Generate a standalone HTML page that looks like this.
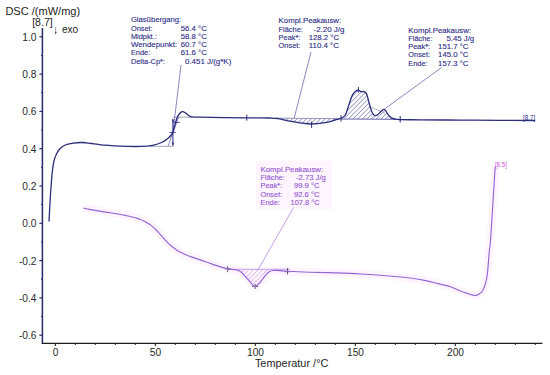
<!DOCTYPE html>
<html><head><meta charset="utf-8"><style>
html,body{margin:0;padding:0;background:#fff;}
svg{display:block;}
text{font-family:"Liberation Sans",sans-serif;}
.ax{font-size:10.2px;fill:#2a2a2a;}
.ttl{font-size:10.2px;fill:#1e1e1e;}
.ttl2{font-size:10.2px;fill:#1e1e1e;}
.lb{font-size:7.4px;stroke-width:0.12px;}
.sm{font-size:6.4px;}
</style></head><body>
<svg width="550" height="375" viewBox="0 0 550 375">
<rect width="550" height="375" fill="#fff"/>
<defs>
<pattern id="hb" patternUnits="userSpaceOnUse" width="3.3" height="3.3" patternTransform="rotate(45)">
<line x1="0" y1="0" x2="0" y2="3.3" stroke="#4a4a96" stroke-width="0.95"/></pattern>
<pattern id="hm" patternUnits="userSpaceOnUse" width="3.3" height="3.3" patternTransform="rotate(45)">
<line x1="0" y1="0" x2="0" y2="3.3" stroke="#cc6ad8" stroke-width="0.9"/></pattern>
<clipPath id="cpb1"><path d="M276 118.3 L341 118.6 L341 130 L276 130 Z"/></clipPath>
<clipPath id="cpb2"><path d="M341 80 L400.2 80 L400.2 119.2 L341 119.2 Z"/></clipPath>
<clipPath id="cpm"><path d="M228 269.4 L290 269.4 L290 292 L228 292 Z"/></clipPath>
</defs>
<rect x="256" y="161" width="76" height="48" fill="#fef5fe"/>
<path d="M83.20 208.01 C83.70 208.12 85.20 208.47 86.20 208.69 C87.20 208.91 88.20 209.12 89.20 209.32 C90.20 209.52 91.20 209.71 92.20 209.90 C93.20 210.08 94.20 210.26 95.20 210.43 C96.20 210.60 97.20 210.77 98.20 210.93 C99.20 211.09 100.20 211.25 101.20 211.41 C102.20 211.56 103.20 211.71 104.20 211.86 C105.20 212.02 106.20 212.17 107.20 212.32 C108.20 212.47 109.20 212.62 110.20 212.77 C111.20 212.92 112.20 213.08 113.20 213.24 C114.20 213.39 115.20 213.55 116.20 213.72 C117.20 213.89 118.20 214.05 119.20 214.23 C120.20 214.41 121.20 214.59 122.20 214.78 C123.20 214.97 124.20 215.17 125.20 215.37 C126.20 215.58 127.20 215.80 128.20 216.02 C129.20 216.25 130.20 216.49 131.20 216.73 C132.20 216.98 133.20 217.24 134.20 217.52 C135.20 217.80 136.20 218.08 137.20 218.41 C138.20 218.73 139.20 219.07 140.20 219.45 C141.20 219.83 142.20 220.24 143.20 220.71 C144.20 221.17 145.20 221.67 146.20 222.24 C147.20 222.80 148.20 223.41 149.20 224.09 C150.20 224.78 151.20 225.52 152.20 226.34 C153.20 227.16 154.20 228.06 155.20 229.02 C156.20 229.99 157.20 231.04 158.20 232.12 C159.20 233.20 160.20 234.35 161.20 235.49 C162.20 236.63 163.20 237.82 164.20 238.93 C165.20 240.05 166.20 241.16 167.20 242.18 C168.20 243.20 169.20 244.15 170.20 245.04 C171.20 245.93 172.20 246.75 173.20 247.52 C174.20 248.29 175.20 249.00 176.20 249.66 C177.20 250.33 178.20 250.94 179.20 251.51 C180.20 252.09 181.20 252.61 182.20 253.11 C183.20 253.61 184.20 254.07 185.20 254.51 C186.20 254.95 187.20 255.35 188.20 255.74 C189.20 256.13 190.20 256.49 191.20 256.85 C192.20 257.20 193.20 257.54 194.20 257.88 C195.20 258.21 196.20 258.54 197.20 258.87 C198.20 259.20 199.20 259.53 200.20 259.87 C201.20 260.21 202.20 260.56 203.20 260.91 C204.20 261.26 205.20 261.62 206.20 261.97 C207.20 262.33 208.20 262.69 209.20 263.05 C210.20 263.41 211.20 263.76 212.20 264.11 C213.20 264.47 214.20 264.81 215.20 265.15 C216.20 265.49 217.20 265.83 218.20 266.15 C219.20 266.47 220.20 266.78 221.20 267.08 C222.20 267.38 223.20 267.66 224.20 267.93 C225.20 268.20 226.20 268.45 227.20 268.68 C228.20 268.92 228.98 269.17 230.20 269.32 C231.42 269.47 232.80 269.22 234.50 269.60 C236.20 269.98 238.45 270.28 240.40 271.60 C242.35 272.92 244.27 275.40 246.20 277.50 C248.13 279.60 250.55 282.70 252.00 284.20 C253.45 285.70 253.68 286.65 254.90 286.50 C256.12 286.35 257.62 285.05 259.30 283.30 C260.98 281.55 263.30 277.95 265.00 276.00 C266.70 274.05 268.03 272.52 269.50 271.60 C270.97 270.68 272.05 270.67 273.80 270.50 C275.55 270.33 277.72 270.47 280.00 270.60 C282.28 270.73 282.50 271.03 287.50 271.30 C292.50 271.57 302.02 271.93 310.00 272.20 C317.98 272.47 326.92 272.60 335.40 272.90 C343.88 273.20 352.42 273.52 360.90 274.00 C369.38 274.48 377.82 275.08 386.30 275.80 C394.78 276.52 405.02 277.45 411.80 278.30 C418.58 279.15 422.77 280.05 427.00 280.90 C431.23 281.75 433.37 282.47 437.20 283.40 C441.03 284.33 446.42 285.35 450.00 286.50 C453.58 287.65 455.82 289.15 458.70 290.30 C461.58 291.45 464.57 292.53 467.30 293.40 C470.03 294.27 473.07 295.43 475.10 295.50 C477.13 295.57 478.20 294.67 479.50 293.80 C480.80 292.93 481.90 292.03 482.90 290.30 C483.90 288.57 484.77 286.00 485.50 283.40 C486.23 280.80 486.80 278.43 487.30 274.70 C487.80 270.97 488.13 265.28 488.50 261.00 C488.87 256.72 489.13 252.83 489.50 249.00 C489.87 245.17 489.75 251.78 490.70 238.00 C491.65 224.22 494.45 178.25 495.20 166.30" fill="none" stroke="#fef4fe" stroke-width="8" stroke-linejoin="round"/>
<line x1="42.4" y1="28" x2="42.4" y2="343.4" stroke="#2a2a70" stroke-width="1.5"/>
<line x1="41.7" y1="343.4" x2="542.4" y2="343.4" stroke="#1e1e1e" stroke-width="1.3"/>
<line x1="39.4" y1="335.20" x2="42.4" y2="335.20" stroke="#2a2a70" stroke-width="1.2"/>
<line x1="41" y1="316.55" x2="42.4" y2="316.55" stroke="#2a2a70" stroke-width="1"/>
<line x1="39.4" y1="297.90" x2="42.4" y2="297.90" stroke="#2a2a70" stroke-width="1.2"/>
<line x1="41" y1="279.25" x2="42.4" y2="279.25" stroke="#2a2a70" stroke-width="1"/>
<line x1="39.4" y1="260.60" x2="42.4" y2="260.60" stroke="#2a2a70" stroke-width="1.2"/>
<line x1="41" y1="241.95" x2="42.4" y2="241.95" stroke="#2a2a70" stroke-width="1"/>
<line x1="39.4" y1="223.30" x2="42.4" y2="223.30" stroke="#2a2a70" stroke-width="1.2"/>
<line x1="41" y1="204.65" x2="42.4" y2="204.65" stroke="#2a2a70" stroke-width="1"/>
<line x1="39.4" y1="186.00" x2="42.4" y2="186.00" stroke="#2a2a70" stroke-width="1.2"/>
<line x1="41" y1="167.35" x2="42.4" y2="167.35" stroke="#2a2a70" stroke-width="1"/>
<line x1="39.4" y1="148.70" x2="42.4" y2="148.70" stroke="#2a2a70" stroke-width="1.2"/>
<line x1="41" y1="130.05" x2="42.4" y2="130.05" stroke="#2a2a70" stroke-width="1"/>
<line x1="39.4" y1="111.40" x2="42.4" y2="111.40" stroke="#2a2a70" stroke-width="1.2"/>
<line x1="41" y1="92.75" x2="42.4" y2="92.75" stroke="#2a2a70" stroke-width="1"/>
<line x1="39.4" y1="74.10" x2="42.4" y2="74.10" stroke="#2a2a70" stroke-width="1.2"/>
<line x1="41" y1="55.45" x2="42.4" y2="55.45" stroke="#2a2a70" stroke-width="1"/>
<line x1="39.4" y1="36.80" x2="42.4" y2="36.80" stroke="#2a2a70" stroke-width="1.2"/>
<text x="36.5" y="40.80" text-anchor="end" class="ax">1.0</text>
<text x="36.5" y="78.10" text-anchor="end" class="ax">0.8</text>
<text x="36.5" y="115.40" text-anchor="end" class="ax">0.6</text>
<text x="36.5" y="152.70" text-anchor="end" class="ax">0.4</text>
<text x="36.5" y="190.00" text-anchor="end" class="ax">0.2</text>
<text x="36.5" y="227.30" text-anchor="end" class="ax">0.0</text>
<text x="36.5" y="264.60" text-anchor="end" class="ax">-0.2</text>
<text x="36.5" y="301.90" text-anchor="end" class="ax">-0.4</text>
<text x="36.5" y="339.20" text-anchor="end" class="ax">-0.6</text>
<line x1="55.30" y1="343.4" x2="55.30" y2="346" stroke="#1e1e1e" stroke-width="1.1"/>
<line x1="75.30" y1="343.4" x2="75.30" y2="345" stroke="#1e1e1e" stroke-width="1"/>
<line x1="95.30" y1="343.4" x2="95.30" y2="345" stroke="#1e1e1e" stroke-width="1"/>
<line x1="115.30" y1="343.4" x2="115.30" y2="345" stroke="#1e1e1e" stroke-width="1"/>
<line x1="135.30" y1="343.4" x2="135.30" y2="345" stroke="#1e1e1e" stroke-width="1"/>
<line x1="155.30" y1="343.4" x2="155.30" y2="346" stroke="#1e1e1e" stroke-width="1.1"/>
<line x1="175.30" y1="343.4" x2="175.30" y2="345" stroke="#1e1e1e" stroke-width="1"/>
<line x1="195.30" y1="343.4" x2="195.30" y2="345" stroke="#1e1e1e" stroke-width="1"/>
<line x1="215.30" y1="343.4" x2="215.30" y2="345" stroke="#1e1e1e" stroke-width="1"/>
<line x1="235.30" y1="343.4" x2="235.30" y2="345" stroke="#1e1e1e" stroke-width="1"/>
<line x1="255.30" y1="343.4" x2="255.30" y2="346" stroke="#1e1e1e" stroke-width="1.1"/>
<line x1="275.30" y1="343.4" x2="275.30" y2="345" stroke="#1e1e1e" stroke-width="1"/>
<line x1="295.30" y1="343.4" x2="295.30" y2="345" stroke="#1e1e1e" stroke-width="1"/>
<line x1="315.30" y1="343.4" x2="315.30" y2="345" stroke="#1e1e1e" stroke-width="1"/>
<line x1="335.30" y1="343.4" x2="335.30" y2="345" stroke="#1e1e1e" stroke-width="1"/>
<line x1="355.30" y1="343.4" x2="355.30" y2="346" stroke="#1e1e1e" stroke-width="1.1"/>
<line x1="375.30" y1="343.4" x2="375.30" y2="345" stroke="#1e1e1e" stroke-width="1"/>
<line x1="395.30" y1="343.4" x2="395.30" y2="345" stroke="#1e1e1e" stroke-width="1"/>
<line x1="415.30" y1="343.4" x2="415.30" y2="345" stroke="#1e1e1e" stroke-width="1"/>
<line x1="435.30" y1="343.4" x2="435.30" y2="345" stroke="#1e1e1e" stroke-width="1"/>
<line x1="455.30" y1="343.4" x2="455.30" y2="346" stroke="#1e1e1e" stroke-width="1.1"/>
<line x1="475.30" y1="343.4" x2="475.30" y2="345" stroke="#1e1e1e" stroke-width="1"/>
<line x1="495.30" y1="343.4" x2="495.30" y2="345" stroke="#1e1e1e" stroke-width="1"/>
<line x1="515.30" y1="343.4" x2="515.30" y2="345" stroke="#1e1e1e" stroke-width="1"/>
<line x1="535.30" y1="343.4" x2="535.30" y2="345" stroke="#1e1e1e" stroke-width="1"/>
<text x="55.50" y="355.6" text-anchor="middle" class="ax">0</text>
<text x="155.50" y="355.6" text-anchor="middle" class="ax">50</text>
<text x="255.50" y="355.6" text-anchor="middle" class="ax">100</text>
<text x="355.50" y="355.6" text-anchor="middle" class="ax">150</text>
<text x="455.50" y="355.6" text-anchor="middle" class="ax">200</text>
<text x="5.4" y="14.8" class="ttl" textLength="74.8" lengthAdjust="spacingAndGlyphs">DSC /(mW/mg)</text>
<text x="32.2" y="26.1" class="ttl2" textLength="20.5" lengthAdjust="spacingAndGlyphs">[8.7]</text>
<text x="61.9" y="32.7" class="ttl2" textLength="16.3" lengthAdjust="spacingAndGlyphs">exo</text>
<line x1="55.7" y1="26.8" x2="55.7" y2="33" stroke="#8a8a8a" stroke-width="0.9"/>
<path d="M54.8 32.2 L56.6 32.2 L55.7 34.4 Z" fill="#333"/>
<text x="254.9" y="366.6" class="ttl" textLength="73.5" lengthAdjust="spacingAndGlyphs">Temperatur /°C</text>
<line x1="150" y1="146.3" x2="173.5" y2="146.3" stroke="#9a9ab8" stroke-width="0.9"/>
<line x1="173" y1="117.2" x2="192" y2="117.2" stroke="#9a9ab8" stroke-width="0.9"/>
<line x1="168.0" y1="146.3" x2="178.6" y2="117.2" stroke="#6a6aa8" stroke-width="0.8"/>
<line x1="172.9" y1="132.4" x2="181.0" y2="65.0" stroke="#6a6ab0" stroke-width="0.8"/>
<line x1="172.9" y1="119" x2="172.9" y2="145.5" stroke="#3a3a90" stroke-width="1.1"/>
<path d="M171.6 142.6 L172.9 146 L174.2 142.6 Z" fill="#3a3a90"/>
<path d="M171.6 121.8 L172.9 118.4 L174.2 121.8 Z" fill="#3a3a90"/>
<line x1="169.4" y1="132.4" x2="175.8" y2="132.4" stroke="#3a3a90" stroke-width="0.9"/>
<line x1="173.2" y1="122.4" x2="179.8" y2="122.4" stroke="#3a3a90" stroke-width="0.9"/>
<path d="M270.00 118.00 C271.33 118.10 274.67 118.07 278.00 118.60 C281.33 119.13 286.33 120.48 290.00 121.20 C293.67 121.92 296.38 122.43 300.00 122.90 C303.62 123.37 307.53 124.05 311.70 124.00 C315.87 123.95 321.12 123.27 325.00 122.60 C328.88 121.93 332.33 120.70 335.00 120.00 C337.67 119.30 339.48 119.00 341.00 118.40 C342.52 117.80 343.58 116.73 344.10 116.40 Z" fill="url(#hb)" stroke="none" clip-path="url(#cpb1)"/>
<path d="M341.00 118.40 C341.52 118.07 343.25 117.23 344.10 116.40 C344.95 115.57 345.43 114.92 346.10 113.40 C346.77 111.88 347.42 109.42 348.10 107.30 C348.78 105.18 349.52 102.65 350.20 100.70 C350.88 98.75 351.53 96.95 352.20 95.60 C352.87 94.25 353.53 93.42 354.20 92.60 C354.87 91.78 355.52 91.08 356.20 90.70 C356.88 90.32 357.45 90.15 358.30 90.30 C359.15 90.45 360.30 91.38 361.30 91.60 C362.30 91.82 363.45 91.27 364.30 91.60 C365.15 91.93 365.80 92.50 366.40 93.60 C367.00 94.70 367.40 96.47 367.90 98.20 C368.40 99.93 368.88 102.13 369.40 104.00 C369.92 105.87 370.42 107.75 371.00 109.40 C371.58 111.05 372.22 112.87 372.90 113.90 C373.58 114.93 374.30 115.47 375.10 115.60 C375.90 115.73 376.77 115.35 377.70 114.70 C378.63 114.05 379.70 112.58 380.70 111.70 C381.70 110.82 382.83 109.53 383.70 109.40 C384.57 109.27 385.17 110.02 385.90 110.90 C386.63 111.78 387.23 113.58 388.10 114.70 C388.97 115.82 389.97 116.88 391.10 117.60 C392.23 118.32 393.53 118.67 394.90 119.00 C396.27 119.33 398.57 119.50 399.30 119.60 Z" fill="url(#hb)" stroke="none" clip-path="url(#cpb2)"/>
<path d="M227.20 268.68 C227.70 268.79 228.98 269.17 230.20 269.32 C231.42 269.47 232.80 269.22 234.50 269.60 C236.20 269.98 238.45 270.28 240.40 271.60 C242.35 272.92 244.27 275.40 246.20 277.50 C248.13 279.60 250.55 282.70 252.00 284.20 C253.45 285.70 253.68 286.65 254.90 286.50 C256.12 286.35 257.62 285.05 259.30 283.30 C260.98 281.55 263.30 277.95 265.00 276.00 C266.70 274.05 268.03 272.52 269.50 271.60 C270.97 270.68 272.05 270.67 273.80 270.50 C275.55 270.33 278.97 270.58 280.00 270.60 Z" fill="url(#hm)" stroke="none" clip-path="url(#cpm)"/>
<line x1="276" y1="118.2" x2="341" y2="118.6" stroke="#8a8ab8" stroke-width="0.9"/>
<line x1="341" y1="119.0" x2="400.2" y2="119.3" stroke="#5050a0" stroke-width="0.9"/>
<line x1="371" y1="107.2" x2="385" y2="113.3" stroke="#a0a0c0" stroke-width="0.8"/>
<line x1="294.2" y1="118.2" x2="311.0" y2="52.0" stroke="#6a6ab0" stroke-width="0.8"/>
<line x1="384" y1="109.4" x2="441.5" y2="67.6" stroke="#6a6ab0" stroke-width="0.8"/>
<line x1="246.8" y1="114.7" x2="246.8" y2="120.7" stroke="#2c2c7c" stroke-width="1"/>
<line x1="311.6" y1="121.4" x2="311.6" y2="127.9" stroke="#2c2c7c" stroke-width="1"/>
<line x1="341.0" y1="115.2" x2="341.0" y2="121.6" stroke="#2c2c7c" stroke-width="1"/>
<line x1="358.4" y1="87.0" x2="358.4" y2="92.5" stroke="#2c2c7c" stroke-width="1"/>
<line x1="400.2" y1="116.1" x2="400.2" y2="122.5" stroke="#2c2c7c" stroke-width="1"/>
<path d="M49.00 221.50 C49.10 219.58 49.37 214.25 49.60 210.00 C49.83 205.75 50.10 200.67 50.40 196.00 C50.70 191.33 51.07 186.17 51.40 182.00 C51.73 177.83 51.95 174.58 52.40 171.00 C52.85 167.42 53.42 163.33 54.10 160.50 C54.78 157.67 55.60 155.88 56.50 154.00 C57.40 152.12 58.35 150.53 59.50 149.20 C60.65 147.87 61.98 146.83 63.40 146.00 C64.82 145.17 66.35 144.68 68.00 144.20 C69.65 143.72 71.15 143.38 73.30 143.10 C75.45 142.82 78.72 142.55 80.90 142.50 C83.08 142.45 84.58 142.63 86.40 142.80 C88.22 142.97 89.80 143.23 91.80 143.50 C93.80 143.77 96.03 144.12 98.40 144.40 C100.77 144.68 102.40 144.90 106.00 145.20 C109.60 145.50 114.03 146.00 120.00 146.20 C125.97 146.40 136.35 146.55 141.80 146.40 C147.25 146.25 149.42 145.95 152.70 145.30 C155.98 144.65 159.13 143.50 161.50 142.50 C163.87 141.50 165.35 140.47 166.90 139.30 C168.45 138.13 169.80 136.72 170.80 135.50 C171.80 134.28 172.20 133.75 172.90 132.00 C173.60 130.25 174.35 127.25 175.00 125.00 C175.65 122.75 176.10 120.33 176.80 118.50 C177.50 116.67 178.30 115.13 179.20 114.00 C180.10 112.87 181.23 111.95 182.20 111.70 C183.17 111.45 184.03 111.95 185.00 112.50 C185.97 113.05 186.90 114.28 188.00 115.00 C189.10 115.72 189.68 116.43 191.60 116.80 C193.52 117.17 190.43 117.03 199.50 117.20 C208.57 117.37 234.25 117.67 246.00 117.80 C257.75 117.93 264.67 117.87 270.00 118.00 C275.33 118.13 274.67 118.07 278.00 118.60 C281.33 119.13 286.33 120.48 290.00 121.20 C293.67 121.92 296.38 122.43 300.00 122.90 C303.62 123.37 307.53 124.05 311.70 124.00 C315.87 123.95 321.12 123.27 325.00 122.60 C328.88 121.93 332.33 120.70 335.00 120.00 C337.67 119.30 339.48 119.00 341.00 118.40 C342.52 117.80 343.25 117.23 344.10 116.40 C344.95 115.57 345.43 114.92 346.10 113.40 C346.77 111.88 347.42 109.42 348.10 107.30 C348.78 105.18 349.52 102.65 350.20 100.70 C350.88 98.75 351.53 96.95 352.20 95.60 C352.87 94.25 353.53 93.42 354.20 92.60 C354.87 91.78 355.52 91.08 356.20 90.70 C356.88 90.32 357.45 90.15 358.30 90.30 C359.15 90.45 360.30 91.38 361.30 91.60 C362.30 91.82 363.45 91.27 364.30 91.60 C365.15 91.93 365.80 92.50 366.40 93.60 C367.00 94.70 367.40 96.47 367.90 98.20 C368.40 99.93 368.88 102.13 369.40 104.00 C369.92 105.87 370.42 107.75 371.00 109.40 C371.58 111.05 372.22 112.87 372.90 113.90 C373.58 114.93 374.30 115.47 375.10 115.60 C375.90 115.73 376.77 115.35 377.70 114.70 C378.63 114.05 379.70 112.58 380.70 111.70 C381.70 110.82 382.83 109.53 383.70 109.40 C384.57 109.27 385.17 110.02 385.90 110.90 C386.63 111.78 387.23 113.58 388.10 114.70 C388.97 115.82 389.97 116.88 391.10 117.60 C392.23 118.32 393.53 118.67 394.90 119.00 C396.27 119.33 395.12 119.47 399.30 119.60 C403.48 119.73 409.88 119.72 420.00 119.80 C430.12 119.88 446.67 120.00 460.00 120.10 C473.33 120.20 487.47 120.33 500.00 120.40 C512.53 120.47 529.33 120.48 535.20 120.50" fill="none" stroke="#2c2c7c" stroke-width="1.3" stroke-linejoin="round"/>
<line x1="228" y1="269.3" x2="290" y2="269.3" stroke="#c090e8" stroke-width="0.9"/>
<line x1="257.8" y1="270.3" x2="293.5" y2="207.5" stroke="#b888e8" stroke-width="0.8"/>
<line x1="227.7" y1="266.0" x2="227.7" y2="272.0" stroke="#505050" stroke-width="0.9"/>
<line x1="255.1" y1="284.0" x2="255.1" y2="289.0" stroke="#505050" stroke-width="0.9"/>
<line x1="287.5" y1="268.0" x2="287.5" y2="274.4" stroke="#505050" stroke-width="0.9"/>
<line x1="224.7" y1="268.8" x2="230.7" y2="268.8" stroke="#505050" stroke-width="0.9"/>
<line x1="252.1" y1="286.4" x2="258.1" y2="286.4" stroke="#505050" stroke-width="0.9"/>
<line x1="284.5" y1="271.7" x2="290.5" y2="271.7" stroke="#505050" stroke-width="0.9"/>
<path d="M83.20 208.01 C83.70 208.12 85.20 208.47 86.20 208.69 C87.20 208.91 88.20 209.12 89.20 209.32 C90.20 209.52 91.20 209.71 92.20 209.90 C93.20 210.08 94.20 210.26 95.20 210.43 C96.20 210.60 97.20 210.77 98.20 210.93 C99.20 211.09 100.20 211.25 101.20 211.41 C102.20 211.56 103.20 211.71 104.20 211.86 C105.20 212.02 106.20 212.17 107.20 212.32 C108.20 212.47 109.20 212.62 110.20 212.77 C111.20 212.92 112.20 213.08 113.20 213.24 C114.20 213.39 115.20 213.55 116.20 213.72 C117.20 213.89 118.20 214.05 119.20 214.23 C120.20 214.41 121.20 214.59 122.20 214.78 C123.20 214.97 124.20 215.17 125.20 215.37 C126.20 215.58 127.20 215.80 128.20 216.02 C129.20 216.25 130.20 216.49 131.20 216.73 C132.20 216.98 133.20 217.24 134.20 217.52 C135.20 217.80 136.20 218.08 137.20 218.41 C138.20 218.73 139.20 219.07 140.20 219.45 C141.20 219.83 142.20 220.24 143.20 220.71 C144.20 221.17 145.20 221.67 146.20 222.24 C147.20 222.80 148.20 223.41 149.20 224.09 C150.20 224.78 151.20 225.52 152.20 226.34 C153.20 227.16 154.20 228.06 155.20 229.02 C156.20 229.99 157.20 231.04 158.20 232.12 C159.20 233.20 160.20 234.35 161.20 235.49 C162.20 236.63 163.20 237.82 164.20 238.93 C165.20 240.05 166.20 241.16 167.20 242.18 C168.20 243.20 169.20 244.15 170.20 245.04 C171.20 245.93 172.20 246.75 173.20 247.52 C174.20 248.29 175.20 249.00 176.20 249.66 C177.20 250.33 178.20 250.94 179.20 251.51 C180.20 252.09 181.20 252.61 182.20 253.11 C183.20 253.61 184.20 254.07 185.20 254.51 C186.20 254.95 187.20 255.35 188.20 255.74 C189.20 256.13 190.20 256.49 191.20 256.85 C192.20 257.20 193.20 257.54 194.20 257.88 C195.20 258.21 196.20 258.54 197.20 258.87 C198.20 259.20 199.20 259.53 200.20 259.87 C201.20 260.21 202.20 260.56 203.20 260.91 C204.20 261.26 205.20 261.62 206.20 261.97 C207.20 262.33 208.20 262.69 209.20 263.05 C210.20 263.41 211.20 263.76 212.20 264.11 C213.20 264.47 214.20 264.81 215.20 265.15 C216.20 265.49 217.20 265.83 218.20 266.15 C219.20 266.47 220.20 266.78 221.20 267.08 C222.20 267.38 223.20 267.66 224.20 267.93 C225.20 268.20 226.20 268.45 227.20 268.68 C228.20 268.92 228.98 269.17 230.20 269.32 C231.42 269.47 232.80 269.22 234.50 269.60 C236.20 269.98 238.45 270.28 240.40 271.60 C242.35 272.92 244.27 275.40 246.20 277.50 C248.13 279.60 250.55 282.70 252.00 284.20 C253.45 285.70 253.68 286.65 254.90 286.50 C256.12 286.35 257.62 285.05 259.30 283.30 C260.98 281.55 263.30 277.95 265.00 276.00 C266.70 274.05 268.03 272.52 269.50 271.60 C270.97 270.68 272.05 270.67 273.80 270.50 C275.55 270.33 277.72 270.47 280.00 270.60 C282.28 270.73 282.50 271.03 287.50 271.30 C292.50 271.57 302.02 271.93 310.00 272.20 C317.98 272.47 326.92 272.60 335.40 272.90 C343.88 273.20 352.42 273.52 360.90 274.00 C369.38 274.48 377.82 275.08 386.30 275.80 C394.78 276.52 405.02 277.45 411.80 278.30 C418.58 279.15 422.77 280.05 427.00 280.90 C431.23 281.75 433.37 282.47 437.20 283.40 C441.03 284.33 446.42 285.35 450.00 286.50 C453.58 287.65 455.82 289.15 458.70 290.30 C461.58 291.45 464.57 292.53 467.30 293.40 C470.03 294.27 473.07 295.43 475.10 295.50 C477.13 295.57 478.20 294.67 479.50 293.80 C480.80 292.93 481.90 292.03 482.90 290.30 C483.90 288.57 484.77 286.00 485.50 283.40 C486.23 280.80 486.80 278.43 487.30 274.70 C487.80 270.97 488.13 265.28 488.50 261.00 C488.87 256.72 489.13 252.83 489.50 249.00 C489.87 245.17 489.75 251.78 490.70 238.00 C491.65 224.22 494.45 178.25 495.20 166.30" fill="none" stroke="#9466d4" stroke-width="1.15" stroke-linejoin="round"/>
<text x="522.9" y="120.3" class="sm" fill="#2e2e86" textLength="12.3" lengthAdjust="spacingAndGlyphs">[8.7]</text>
<text x="494.9" y="167.3" class="sm" fill="#d050e0" textLength="12" lengthAdjust="spacingAndGlyphs">[8.5]</text>
<text x="130.9" y="22.3" class="lb" fill="#2e2e86" stroke="#2e2e86" textLength="50.2" lengthAdjust="spacingAndGlyphs">Glasübergang:</text>
<text x="130.9" y="30.6" class="lb" fill="#2e2e86" stroke="#2e2e86">Onset:</text>
<text x="180.8" y="30.6" class="lb" fill="#2e2e86" stroke="#2e2e86" textLength="26.0" lengthAdjust="spacingAndGlyphs">56.4 °C</text>
<text x="130.9" y="38.8" class="lb" fill="#2e2e86" stroke="#2e2e86">Midpkt.:</text>
<text x="180.8" y="38.8" class="lb" fill="#2e2e86" stroke="#2e2e86" textLength="26.0" lengthAdjust="spacingAndGlyphs">58.8 °C</text>
<text x="130.9" y="47.1" class="lb" fill="#2e2e86" stroke="#2e2e86" textLength="46.3" lengthAdjust="spacingAndGlyphs">Wendepunkt:</text>
<text x="180.8" y="47.1" class="lb" fill="#2e2e86" stroke="#2e2e86" textLength="26.0" lengthAdjust="spacingAndGlyphs">60.7 °C</text>
<text x="130.9" y="55.3" class="lb" fill="#2e2e86" stroke="#2e2e86">Ende:</text>
<text x="180.8" y="55.3" class="lb" fill="#2e2e86" stroke="#2e2e86" textLength="26.0" lengthAdjust="spacingAndGlyphs">61.6 °C</text>
<text x="130.9" y="63.6" class="lb" fill="#2e2e86" stroke="#2e2e86">Delta-Cp*:</text>
<text x="185.0" y="63.6" class="lb" fill="#2e2e86" stroke="#2e2e86" textLength="46.3" lengthAdjust="spacingAndGlyphs">0.451 J/(g*K)</text>
<text x="278.6" y="23.4" class="lb" fill="#2e2e86" stroke="#2e2e86" textLength="62.6" lengthAdjust="spacingAndGlyphs">Kompl.Peakausw:</text>
<text x="278.6" y="31.5" class="lb" fill="#2e2e86" stroke="#2e2e86">Fläche:</text>
<text x="313.5" y="31.5" class="lb" fill="#2e2e86" stroke="#2e2e86" textLength="31.0" lengthAdjust="spacingAndGlyphs">-2.20 J/g</text>
<text x="278.6" y="39.6" class="lb" fill="#2e2e86" stroke="#2e2e86">Peak*:</text>
<text x="308.7" y="39.6" class="lb" fill="#2e2e86" stroke="#2e2e86" textLength="30.3" lengthAdjust="spacingAndGlyphs">128.2 °C</text>
<text x="278.6" y="47.7" class="lb" fill="#2e2e86" stroke="#2e2e86">Onset:</text>
<text x="308.7" y="47.7" class="lb" fill="#2e2e86" stroke="#2e2e86" textLength="30.3" lengthAdjust="spacingAndGlyphs">110.4 °C</text>
<text x="408.3" y="32.8" class="lb" fill="#2e2e86" stroke="#2e2e86" textLength="62.7" lengthAdjust="spacingAndGlyphs">Kompl.Peakausw:</text>
<text x="408.3" y="41.0" class="lb" fill="#2e2e86" stroke="#2e2e86">Fläche:</text>
<text x="446.5" y="41.0" class="lb" fill="#2e2e86" stroke="#2e2e86" textLength="27.7" lengthAdjust="spacingAndGlyphs">5.45 J/g</text>
<text x="408.3" y="49.2" class="lb" fill="#2e2e86" stroke="#2e2e86">Peak*:</text>
<text x="438.1" y="49.2" class="lb" fill="#2e2e86" stroke="#2e2e86" textLength="30.3" lengthAdjust="spacingAndGlyphs">151.7 °C</text>
<text x="408.3" y="57.4" class="lb" fill="#2e2e86" stroke="#2e2e86">Onset:</text>
<text x="438.1" y="57.4" class="lb" fill="#2e2e86" stroke="#2e2e86" textLength="30.3" lengthAdjust="spacingAndGlyphs">145.0 °C</text>
<text x="408.3" y="65.6" class="lb" fill="#2e2e86" stroke="#2e2e86">Ende:</text>
<text x="438.1" y="65.6" class="lb" fill="#2e2e86" stroke="#2e2e86" textLength="30.3" lengthAdjust="spacingAndGlyphs">157.3 °C</text>
<text x="260.5" y="172.0" class="lb" fill="#9458d4" stroke="#9458d4" textLength="62.7" lengthAdjust="spacingAndGlyphs">Kompl.Peakausw:</text>
<text x="260.5" y="180.2" class="lb" fill="#9458d4" stroke="#9458d4">Fläche:</text>
<text x="295.9" y="180.2" class="lb" fill="#9458d4" stroke="#9458d4" textLength="30.0" lengthAdjust="spacingAndGlyphs">-2.73 J/g</text>
<text x="260.5" y="188.4" class="lb" fill="#9458d4" stroke="#9458d4">Peak*:</text>
<text x="294.0" y="188.4" class="lb" fill="#9458d4" stroke="#9458d4" textLength="25.5" lengthAdjust="spacingAndGlyphs">99.9 °C</text>
<text x="260.5" y="196.5" class="lb" fill="#9458d4" stroke="#9458d4">Onset:</text>
<text x="294.0" y="196.5" class="lb" fill="#9458d4" stroke="#9458d4" textLength="25.5" lengthAdjust="spacingAndGlyphs">92.6 °C</text>
<text x="260.5" y="204.7" class="lb" fill="#9458d4" stroke="#9458d4">Ende:</text>
<text x="290.5" y="204.7" class="lb" fill="#9458d4" stroke="#9458d4" textLength="29.0" lengthAdjust="spacingAndGlyphs">107.8 °C</text>
</svg>
</body></html>
